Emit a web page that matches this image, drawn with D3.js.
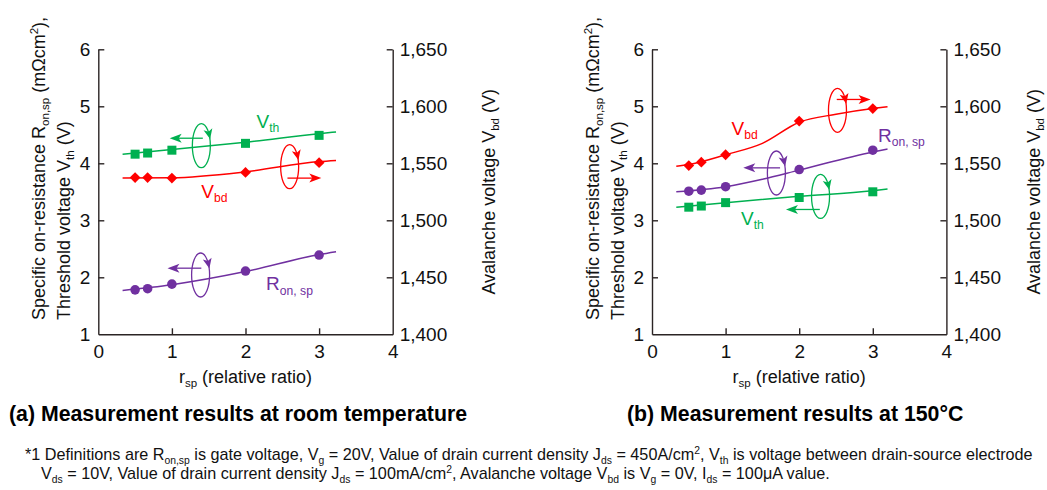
<!DOCTYPE html>
<html>
<head>
<meta charset="utf-8">
<script src="https://cdn.jsdelivr.net/npm/d3@7"></script>
<style>
  body { margin: 0; background: #fff; }
  svg { display: block; font-family: Arial, "Liberation Sans", sans-serif; }
  text { white-space: pre; }
</style>
</head>
<body>
<div id="chart"></div>
<script>
// measured values (x = r_sp relative ratio)
var rsp = [0.5, 0.67, 1, 2, 3];

// (a) room temperature
var ronRT = [1.78, 1.80, 1.88, 2.11, 2.39];          // mΩcm²
var vthRT = [4.16, 4.18, 4.23, 4.35, 4.49];          // V
var vbdRT = [1537.5, 1537.5, 1537, 1542, 1550.5];    // V (right axis)

// (b) 150°C
var ronHT = [3.51, 3.53, 3.59, 3.89, 4.23];
var vthHT = [3.23, 3.25, 3.31, 3.40, 3.50];
var vbdHT = [1548, 1551, 1557.5, 1587, 1598];

// fitted trend lines
var ronRTFit = [[0.33, 1.77], [1, 1.87], [2, 2.10], [3, 2.40], [3.23, 2.45]];
var vthRTFit = [[0.33, 4.16], [1, 4.24], [2, 4.37], [3, 4.52], [3.23, 4.55]];
var vbdRTFit = [[0.33, 1537], [1, 1537.3], [2, 1542.5], [3, 1551.5], [3.23, 1552.5]];
var ronHTFit = [[0.33, 3.50], [1, 3.59], [1.5, 3.72], [2, 3.88], [3, 4.20], [3.2, 4.25]];
var vthHTFit = [[0.33, 3.23], [1, 3.31], [2, 3.42], [3, 3.52], [3.2, 3.55]];
var vbdHTFit = [[0.33, 1547.5], [0.5, 1549], [1, 1557.5], [1.5, 1567.5], [2, 1586], [2.5, 1593], [3, 1598], [3.2, 1599.5]];

// axis ticks
var xTicks = [0, 1, 2, 3, 4];
var leftTicks = [1, 2, 3, 4, 5, 6];
var rightTicks = [1400, 1450, 1500, 1550, 1600, 1650];

var colors = { ron: "#7030a0", vth: "#00b050", vbd: "#ff0000" };
var axisColor = "#2b2424";

var W = 1047, H = 490;
var svg = d3.select("#chart").append("svg").attr("width", W).attr("height", H);
svg.append("rect").attr("width", W).attr("height", H).attr("fill", "#fff");

// text with subscripts / superscripts
function rich(sel, parts, size) {
  var shift = 0;
  parts.forEach(function(p) {
    var t = typeof p === "string" ? p : p[0];
    var kind = typeof p === "string" ? null : p[1];
    var target = kind === "sub" ? size * 0.22 : kind === "sup" ? -size * 0.4 : 0;
    sel.append("tspan")
      .attr("dy", target - shift)
      .attr("font-size", kind ? size * 0.64 : size)
      .text(t);
    shift = target;
  });
  return sel;
}

function arrowHead(g, x, y, angle, len, half, color) {
  // tip at (x,y), pointing along angle (radians)
  var c = Math.cos(angle), s = Math.sin(angle);
  function pt(a, b) { return [x - c * a - s * b, y - s * a + c * b]; }
  var p = [pt(0, 0), pt(len, half), pt(len * 0.75, 0), pt(len, -half)];
  g.append("path")
    .attr("d", "M" + p.map(function(q) { return q.join(","); }).join("L") + "Z")
    .attr("fill", color);
}

function panel(opt) {
  var g = svg.append("g").attr("transform", "translate(" + opt.left + ",0)");
  var pw = 294.4, top = 49.3, bottom = 334.3;

  var x = d3.scaleLinear().domain([0, 4]).range([0, pw]);
  var yL = d3.scaleLinear().domain([1, 6]).range([bottom, top]);
  var yR = d3.scaleLinear().domain([1400, 1650]).range([bottom, top]);

  // axes, ticks inward
  var ax = g.append("g").attr("transform", "translate(0," + bottom + ")")
    .call(d3.axisBottom(x).tickValues(xTicks).tickFormat(d3.format("d")).tickSizeInner(-6).tickSizeOuter(0).tickPadding(10));
  ax.selectAll(".tick").filter(function(d) { return d === 0 || d === 4; }).select("line").remove();
  var al = g.append("g")
    .call(d3.axisLeft(yL).tickValues(leftTicks).tickFormat(d3.format("d")).tickSizeInner(-6).tickSizeOuter(0).tickPadding(8));
  al.selectAll(".tick").filter(function(d) { return d === 1; }).select("line").remove();
  var ar = g.append("g").attr("transform", "translate(" + pw + ",0)")
    .call(d3.axisRight(yR).tickValues(rightTicks).tickFormat(d3.format(",")).tickSizeInner(-6).tickSizeOuter(0).tickPadding(7));
  ar.selectAll(".tick").filter(function(d) { return d === 1400; }).select("line").remove();

  [ax, al, ar].forEach(function(a) {
    a.selectAll("path, line").attr("stroke", axisColor).attr("stroke-width", 1.4);
    a.selectAll("text").attr("fill", "#111").attr("font-size", 19)
      .attr("font-family", "Arial, 'Liberation Sans', sans-serif");
  });

  // axis titles
  rich(g.append("text").attr("transform", "translate(-53,320) rotate(-90)").attr("fill", "#111"),
    ["Specific on-resistance R", ["on,sp", "sub"], " (mΩcm", ["2", "sup"], "),"], 18);
  rich(g.append("text").attr("transform", "translate(-28.5,320) rotate(-90)").attr("fill", "#111"),
    ["Threshold voltage V", ["th", "sub"], " (V)"], 18);
  rich(g.append("text").attr("transform", "translate(" + (pw + opt.rightTitle) + "," + ((top + bottom) / 2) + ") rotate(-90)")
    .attr("text-anchor", "middle").attr("fill", "#111"),
    ["Avalanche voltage V", ["bd", "sub"], " (V)"], 18);
  rich(g.append("text").attr("x", pw / 2).attr("y", 383).attr("text-anchor", "middle").attr("fill", "#111"),
    ["r", ["sp", "sub"], " (relative ratio)"], 18);

  var line = function(scale) {
    return d3.line().curve(d3.curveMonotoneX)
      .x(function(d) { return x(d[0]); })
      .y(function(d) { return scale(d[1]); });
  };

  opt.series.forEach(function(s) {
    var sc = s.axis === "right" ? yR : yL;
    g.append("path")
      .attr("d", line(sc)(s.fit))
      .attr("fill", "none")
      .attr("stroke", colors[s.key])
      .attr("stroke-width", 1.5);

    var sym = s.key === "ron" ? d3.symbol(d3.symbolCircle, 72)
      : s.key === "vth" ? d3.symbol(d3.symbolSquare, 81)
      : d3.symbol(d3.symbolSquare, 58);
    g.append("g").selectAll("path")
      .data(s.values)
      .enter()
      .append("path")
      .attr("d", sym)
      .attr("transform", function(d, i) {
        return "translate(" + x(rsp[i]) + "," + sc(d) + ")" + (s.key === "vbd" ? " rotate(45)" : "");
      })
      .attr("fill", colors[s.key]);

    // series label
    var lab = g.append("text")
      .attr("x", x(s.label[0]))
      .attr("y", yL(s.label[1]))
      .attr("fill", colors[s.key]);
    rich(lab, s.labelParts, 19);

    // rotation loop + axis arrow
    var a = s.arrow;
    var cx = x(a.loop[0]), cy = yL(a.loop[1]);
    var rx = 9, ry = 22;
    g.append("ellipse").attr("cx", cx).attr("cy", cy).attr("rx", rx).attr("ry", ry)
      .attr("fill", "none").attr("stroke", colors[s.key]).attr("stroke-width", 1.3);
    var t = -0.5;
    var hx = cx + rx * Math.cos(t), hy = cy + ry * Math.sin(t);
    var ang = Math.atan2(ry * Math.cos(t), -rx * Math.sin(t));
    arrowHead(g, hx + Math.cos(ang) * 4, hy + Math.sin(ang) * 4, ang, 10, 4.5, colors[s.key]);

    var x1 = x(a.from), x2 = x(a.to), ay = yL(a.y);
    var dir = x2 > x1 ? 1 : -1;
    g.append("line")
      .attr("x1", x1).attr("x2", x2 - dir * 8).attr("y1", ay).attr("y2", ay)
      .attr("stroke", colors[s.key]).attr("stroke-width", 1.3);
    arrowHead(g, x2, ay, dir > 0 ? 0 : Math.PI, 12, 4.5, colors[s.key]);
  });

  svg.append("text")
    .attr("x", opt.caption[0]).attr("y", 421)
    .attr("font-size", 21.3).attr("font-weight", "bold").attr("fill", "#000")
    .text(opt.caption[1]);
}

var vthParts = ["V", ["th", "sub"]];
var vbdParts = ["V", ["bd", "sub"]];
var ronParts = ["R", ["on, sp", "sub"]];

panel({
  left: 98.3,
  rightTitle: 102,
  caption: [9, "(a) Measurement results at room temperature"],
  series: [
    { key: "vth", axis: "left", values: vthRT, fit: vthRTFit, label: [2.15, 4.62], labelParts: vthParts,
      arrow: { loop: [1.40, 4.31], from: 1.42, to: 0.97, y: 4.44 } },
    { key: "vbd", axis: "right", values: vbdRT, fit: vbdRTFit, label: [1.40, 3.40], labelParts: vbdParts,
      arrow: { loop: [2.60, 3.94], from: 2.57, to: 3.03, y: 3.74 } },
    { key: "ron", axis: "left", values: ronRT, fit: ronRTFit, label: [2.28, 1.77], labelParts: ronParts,
      arrow: { loop: [1.39, 2.04], from: 1.40, to: 0.94, y: 2.16 } }
  ]
});

panel({
  left: 652,
  rightTitle: 94,
  caption: [627, "(b) Measurement results at 150°C"],
  series: [
    { key: "vbd", axis: "right", values: vbdHT, fit: vbdHTFit, label: [1.08, 4.50], labelParts: vbdParts,
      arrow: { loop: [2.52, 4.93], from: 2.51, to: 2.97, y: 5.12 } },
    { key: "ron", axis: "left", values: ronHT, fit: ronHTFit, label: [3.07, 4.38], labelParts: ronParts,
      arrow: { loop: [1.69, 3.83], from: 1.74, to: 1.24, y: 3.92 } },
    { key: "vth", axis: "left", values: vthHT, fit: vthHTFit, label: [1.21, 2.92], labelParts: vthParts,
      arrow: { loop: [2.29, 3.42], from: 2.28, to: 1.82, y: 3.19 } }
  ]
});

// footnote
rich(svg.append("text").attr("x", 25).attr("y", 460).attr("fill", "#111"),
  ["*1 Definitions are R", ["on,sp", "sub"], " is gate voltage, V", ["g", "sub"], " = 20V, Value of drain current density J",
   ["ds", "sub"], " = 450A/cm", ["2", "sup"], ", V", ["th", "sub"], " is voltage between drain-source electrode"], 16.2);
rich(svg.append("text").attr("x", 41).attr("y", 479).attr("fill", "#111"),
  ["V", ["ds", "sub"], " = 10V, Value of drain current density J", ["ds", "sub"], " = 100mA/cm", ["2", "sup"],
   ", Avalanche voltage V", ["bd", "sub"], " is V", ["g", "sub"], " = 0V, I", ["ds", "sub"], " = 100μA value."], 16.2);
</script>
</body>
</html>
